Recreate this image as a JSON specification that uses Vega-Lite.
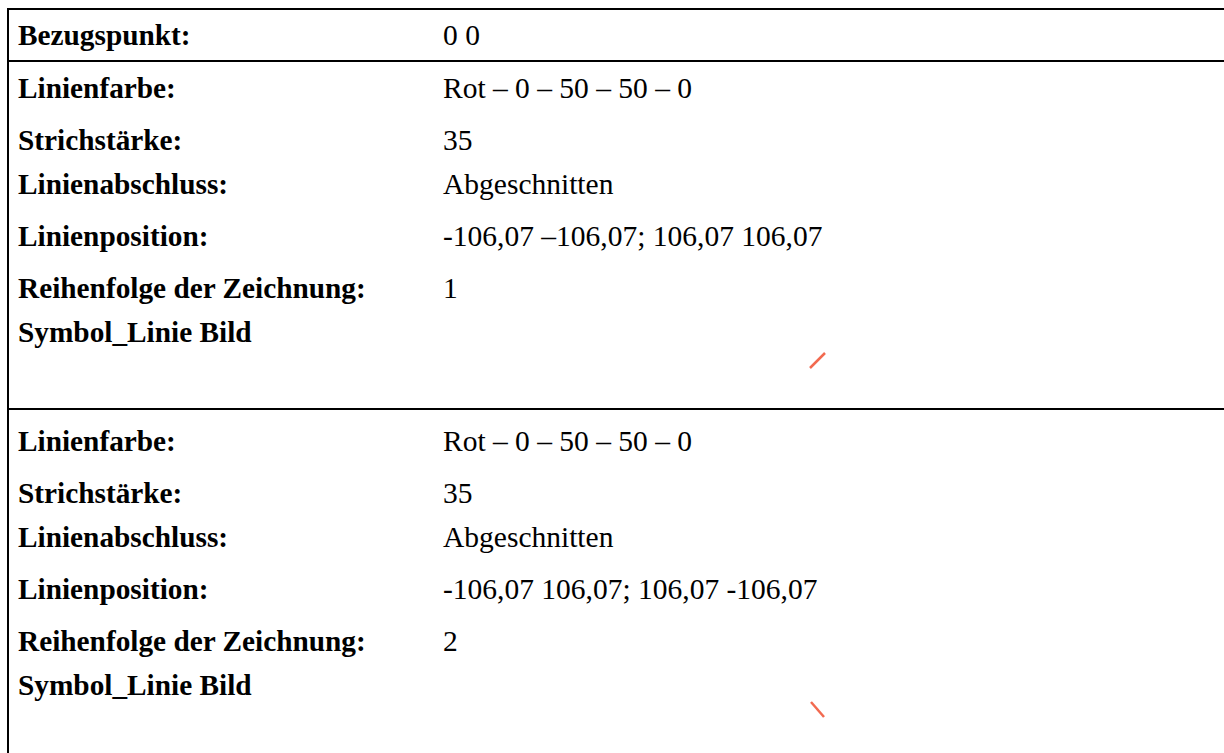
{
  "$schema": "https://vega.github.io/schema/vega-lite/v6.json",
  "width": 1224,
  "height": 753,
  "autosize": "none",
  "padding": 0,
  "background": "white",
  "config": {"view": {"stroke": null}},
  "datasets": {
    "borders": [
      {"x": 8, "x2": 1224, "y": 9, "y2": 9},
      {"x": 8, "x2": 1224, "y": 61, "y2": 61},
      {"x": 8, "x2": 1224, "y": 409, "y2": 409},
      {"x": 8, "x2": 8, "y": 8, "y2": 753}
    ],
    "rows": [
      {"top": 45, "label": "Bezugspunkt:", "value": "0 0"},
      {"top": 98, "label": "Linienfarbe:", "value": "Rot – 0 – 50 – 50 – 0"},
      {"top": 150, "label": "Strichstärke:", "value": "35"},
      {"top": 194, "label": "Linienabschluss:", "value": "Abgeschnitten"},
      {"top": 246, "label": "Linienposition:", "value": "-106,07 –106,07; 106,07 106,07"},
      {"top": 298, "label": "Reihenfolge der Zeichnung:", "value": "1"},
      {"top": 342, "label": "Symbol_Linie Bild", "value": ""},
      {"top": 451, "label": "Linienfarbe:", "value": "Rot – 0 – 50 – 50 – 0"},
      {"top": 503, "label": "Strichstärke:", "value": "35"},
      {"top": 547, "label": "Linienabschluss:", "value": "Abgeschnitten"},
      {"top": 599, "label": "Linienposition:", "value": "-106,07 106,07; 106,07 -106,07"},
      {"top": 651, "label": "Reihenfolge der Zeichnung:", "value": "2"},
      {"top": 695, "label": "Symbol_Linie Bild", "value": ""}
    ],
    "symbols": [
      {"x": 810, "y": 368, "x2": 825, "y2": 353},
      {"x": 811, "y": 702, "x2": 824, "y2": 717}
    ]
  },
  "layer": [
    {
      "data": {"name": "borders"},
      "mark": {"type": "rule", "stroke": "black", "strokeWidth": 2},
      "encoding": {
        "x": {"field": "x", "type": "quantitative", "scale": {"domain": [0, 1224], "nice": false, "zero": false}, "axis": null},
        "x2": {"field": "x2"},
        "y": {"field": "y", "type": "quantitative", "scale": {"domain": [0, 753], "nice": false, "zero": false, "reverse": true}, "axis": null},
        "y2": {"field": "y2"}
      }
    },
    {
      "data": {"name": "rows"},
      "mark": {"type": "text", "align": "left", "baseline": "alphabetic", "font": "Liberation Serif", "fontSize": 29.3, "fontWeight": "bold", "color": "black"},
      "encoding": {
        "x": {"datum": 18, "type": "quantitative"},
        "y": {"field": "top", "type": "quantitative"},
        "text": {"field": "label"}
      }
    },
    {
      "data": {"name": "rows"},
      "mark": {"type": "text", "align": "left", "baseline": "alphabetic", "font": "Liberation Serif", "fontSize": 29.5, "color": "black"},
      "encoding": {
        "x": {"datum": 443, "type": "quantitative"},
        "y": {"field": "top", "type": "quantitative"},
        "text": {"field": "value"}
      }
    },
    {
      "data": {"name": "symbols"},
      "mark": {"type": "rule", "stroke": "#F26A50", "strokeWidth": 2.5},
      "encoding": {
        "x": {"field": "x", "type": "quantitative"},
        "x2": {"field": "x2"},
        "y": {"field": "y", "type": "quantitative"},
        "y2": {"field": "y2"}
      }
    }
  ]
}
